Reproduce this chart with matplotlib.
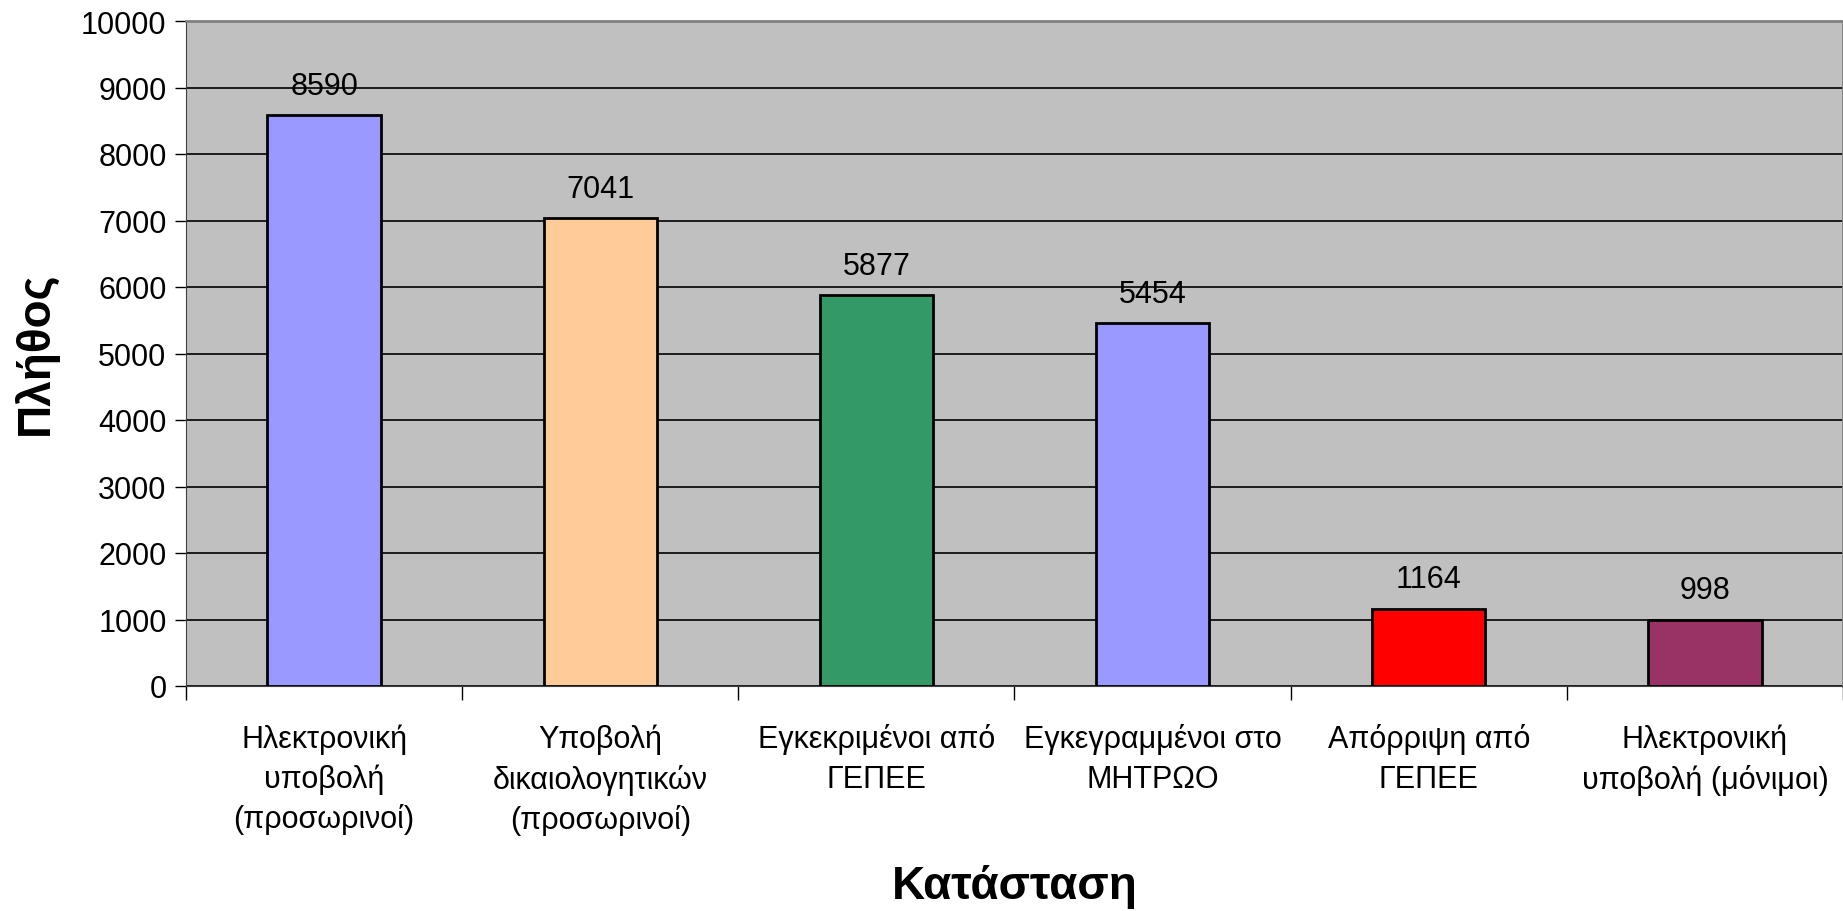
import matplotlib.pyplot as plt
from matplotlib.ticker import MultipleLocator

categories = [
    "Ηλεκτρονική\nυποβολή\n(προσωρινοί)",
    "Υποβολή\nδικαιολογητικών\n(προσωρινοί)",
    "Εγκεκριμένοι από\nΓΕΠΕΕ",
    "Εγκεγραμμένοι στο\nΜΗΤΡΩΟ",
    "Απόρριψη από\nΓΕΠΕΕ",
    "Ηλεκτρονική\nυποβολή (μόνιμοι)",
]
values = [8590, 7041, 5877, 5454, 1164, 998]
colors = ["#9999FF", "#FFCC99", "#339966", "#9999FF", "#FF0000", "#993366"]

plt.rcParams["font.family"] = ["Liberation Sans", "DejaVu Sans"]

fig = plt.figure(figsize=(18.43, 9.12), dpi=100)
ax = fig.add_axes([186 / 1843, 1 - 687 / 912, 1 - 186 / 1843, (687 - 22) / 912])
ax.set_facecolor("#C0C0C0")

x = list(range(len(values)))
bars = ax.bar(x, values, width=0.41, color=colors, edgecolor="black", linewidth=2, zorder=3)
for b, v in zip(bars, values):
    ax.annotate(str(v), (b.get_x() + b.get_width() / 2, v), xytext=(0, 21),
                textcoords="offset points", ha="center", va="center", fontsize=22)

ax.set_xlim(-0.5, len(values) - 0.5)
ax.set_ylim(0, 10000)
ax.yaxis.set_major_locator(MultipleLocator(1000))
ax.grid(axis="y", color="black", linewidth=1.2, zorder=1)
ax.set_axisbelow(True)

ax.set_xticks([i - 0.5 for i in range(len(values) + 1)])
ax.set_xticklabels([])
ax.set_xticks(x, minor=True)
ax.set_xticklabels(categories, minor=True, fontsize=22, linespacing=1.4)
ax.tick_params(axis="x", which="major", length=10, width=1, color="black")
ax.tick_params(axis="x", which="minor", length=0, pad=27)
ax.tick_params(axis="y", labelsize=22, length=8, width=1, pad=6)

for s in ["top", "right"]:
    ax.spines[s].set_color("#808080")
    ax.spines[s].set_linewidth(2)
ax.spines["left"].set_color("#404040")
ax.spines["bottom"].set_color("#404040")

fig.text(35 / 1843, 1 - 353 / 912, "Πλήθος", rotation=90, ha="center", va="center",
         fontsize=33, fontweight="bold")
fig.text(0.5 + 186 / 1843 / 2, 1 - 887 / 912, "Κατάσταση", ha="center", va="center",
         fontsize=33, fontweight="bold")

fig.savefig("out.png", dpi=100)
